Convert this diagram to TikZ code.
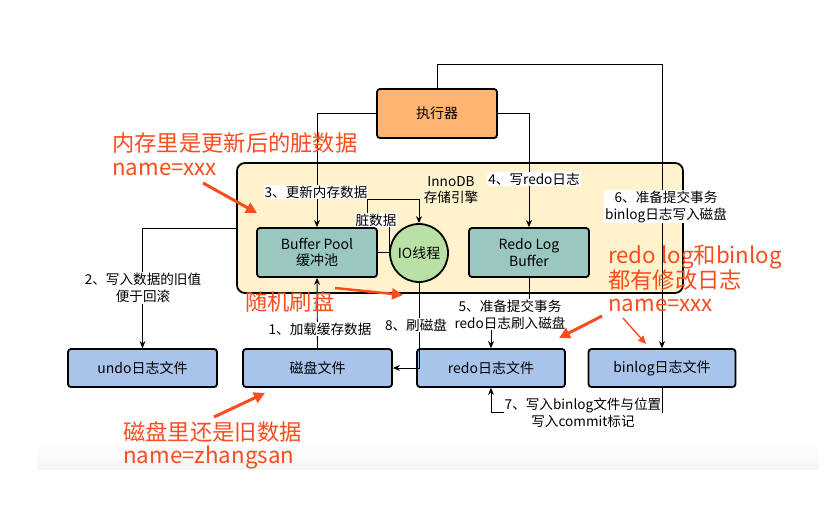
\documentclass[tikz,border=0pt]{standalone}
\usepackage{fontspec}
\setmainfont{Noto Sans CJK SC}
\usetikzlibrary{arrows.meta}
\definecolor{execfill}{HTML}{FFB570}
\definecolor{innofill}{HTML}{FFF2CC}
\definecolor{tealfill}{HTML}{9AC7BF}
\definecolor{greenfill}{HTML}{B9E0A5}
\definecolor{bluefill}{HTML}{A9C4EB}
\definecolor{annored}{RGB}{250,76,30}
\tikzset{
  boxstyle/.style={draw=black, line width=1.8pt, rounded corners=3pt, inner sep=0pt, font=\fontsize{14}{16.5}\selectfont, align=center},
  arr/.style={draw=black, line width=0.9pt, -{Stealth[length=7pt,width=6pt]}},
  plain/.style={draw=black, line width=0.9pt},
  lbl/.style={fill=white, inner sep=1pt, font=\fontsize{13.6}{17}\selectfont, align=center},
  redtxt/.style={text=annored, anchor=west, inner sep=0pt, font=\fontsize{22.3}{24}\selectfont},
  redarr/.style={draw=annored, line width=3pt, -{Triangle[length=11pt,width=11pt]}},
  redthin/.style={draw=annored, line width=1.4pt, -{Triangle[length=8pt,width=7pt]}},
}
\begin{document}
\begin{tikzpicture}[x=1pt,y=-1pt]
\useasboundingbox (0,0) rectangle (840,509);
\fill[white] (0,0) rectangle (840,509);
\shade[top color=white, bottom color=black!4] (37,443) rectangle (818,469);

% InnoDB engine box
\node[boxstyle, fill=innofill, rounded corners=8pt, minimum width=446pt, minimum height=130pt] (inno) at (460,228) {};
\node[font=\fontsize{13.6}{17}\selectfont, align=center] (innolbl) at (451,190) {InnoDB\\[-1pt]存储引擎};

% main boxes
\node[boxstyle, fill=execfill, minimum width=120pt, minimum height=49pt] (exec) at (437,113.5) {执行器};
\node[boxstyle, fill=tealfill, minimum width=120pt, minimum height=49pt] (bp) at (317,252.5) {Buffer Pool\\缓冲池};
\node[circle, draw=black, line width=1.8pt, fill=greenfill, minimum size=58pt, inner sep=0pt, font=\fontsize{14}{16.5}\selectfont] (io) at (419,253) {IO线程};
\node[boxstyle, fill=tealfill, minimum width=120pt, minimum height=49pt] (rlb) at (529,252.5) {Redo Log\\Buffer};

\node[boxstyle, fill=bluefill, minimum width=149pt, minimum height=38pt] (undo) at (142.5,368) {undo日志文件};
\node[boxstyle, fill=bluefill, minimum width=149pt, minimum height=38pt] (disk) at (317.5,368) {磁盘文件};
\node[boxstyle, fill=bluefill, minimum width=148pt, minimum height=38pt] (redo) at (491,368) {redo日志文件};
\node[boxstyle, fill=bluefill, minimum width=147pt, minimum height=38pt] (binlog) at (662,368) {binlog日志文件};

% connectors
\draw[arr] (exec.north) -- ++(0,-24) -| (binlog.north);
\draw[arr] (exec.west) -| (bp.north);
\draw[arr] (exec.east) -| (rlb.north);
\draw[arr] (inno.west) -| (undo.north);
\draw[arr] (disk.north) -- (bp.south);
\draw[arr] (io.south) |- (disk.east);
\draw[arr] (rlb.south) -- ++(0,37) -| (redo.north);
\draw[arr] (binlog.south) -- ++(0,25) -| (redo.south);
\coordinate (d1) at (389,252.5);
\coordinate (d2) at (389,220);
\coordinate (d3) at (367,220);
\coordinate (d4) at (367,199);
\draw[plain] (bp.east) -- (d1);
\draw[arr] (d1) -- (d2) -- (d3) -- (d4) -| (io.north);

% connector labels
\node[lbl] (l3) at (316,192) {3、更新内存数据};
\node[lbl] (ld) at (376,220) {脏数据};
\node[lbl] (l4) at (534,179) {4、写redo日志};
\node[lbl] (l6) at (666,206.5) {6、准备提交事务\\binlog日志写入磁盘};
\node[lbl] (l2) at (143,288) {2、写入数据的旧值\\便于回滚};
\node[lbl] (l1) at (320,329) {1、加载缓存数据};
\node[lbl] (l8) at (416,325) {8、刷磁盘};
\node[lbl] (l5) at (510,314.5) {5、准备提交事务\\redo日志刷入磁盘};
\node[lbl] (l7) at (583,412.5) {7、写入binlog文件与位置\\写入commit标记};

% red annotations
\node[redtxt] (r1a) at (112,143) {内存里是更新后的脏数据};
\node[redtxt] (r1b) at (112,169) {name=xxx};
\node[redtxt] (r2) at (245,302) {随机刷盘};
\node[redtxt] (r3a) at (608,257) {redo log和binlog};
\node[redtxt] (r3b) at (608,280) {都有修改日志};
\node[redtxt] (r3c) at (608,305) {name=xxx};
\node[redtxt] (r4a) at (123,432) {磁盘里还是旧数据};
\node[redtxt] (r4b) at (123,457) {name=zhangsan};

\coordinate (a1s) at (203,183); \coordinate (a1e) at (257,213);
\coordinate (a2s) at (335,288); \coordinate (a2e) at (403,295);
\coordinate (a3s) at (602,316); \coordinate (a3e) at (559,338);
\coordinate (a4s) at (623,318); \coordinate (a4e) at (646,344);
\coordinate (a5s) at (214,417); \coordinate (a5e) at (265,393);
\draw[redarr] (a1s) -- (a1e);
\draw[redarr, line width=2.5pt] (a2s) -- (a2e);
\draw[redarr] (a3s) -- (a3e);
\draw[redthin] (a4s) -- (a4e);
\draw[redarr] (a5s) -- (a5e);
\end{tikzpicture}
\end{document}
